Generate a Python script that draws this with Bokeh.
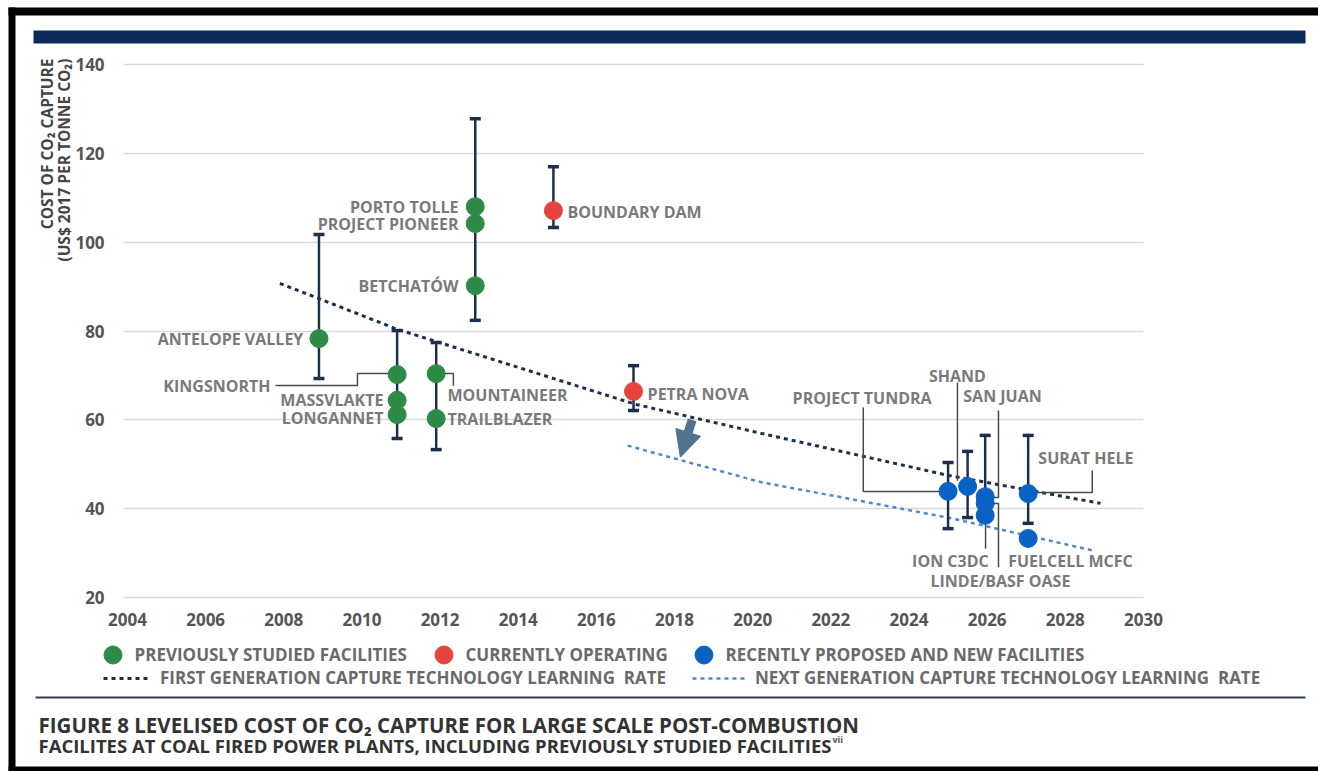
from math import pi
from bokeh.plotting import figure
from bokeh.models import (ColumnDataSource, Range1d, FixedTicker, Label, BoxAnnotation,
                          Legend, LegendItem, Arrow, NormalHead, LinearAxis, Grid)
from bokeh.core.properties import value
from bokeh.embed import file_html
from bokeh.resources import INLINE

# ---------------- data ----------------
prev_names = ["ANTELOPE VALLEY", "KINGSNORTH", "MASSVLAKTE", "LONGANNET", "MOUNTAINEER",
              "TRAILBLAZER", "PORTO TOLLE", "PROJECT PIONEER", "BETCHATÓW"]
prev_year = [2008.9, 2010.9, 2010.9, 2010.9, 2011.9, 2011.9, 2012.9, 2012.9, 2012.9]
prev_cost = [78.3, 70.2, 64.4, 61.2, 70.4, 60.3, 108.0, 104.2, 90.2]

curr_names = ["BOUNDARY DAM", "PETRA NOVA"]
curr_year = [2014.9, 2016.95]
curr_cost = [107.1, 66.4]

new_names = ["PROJECT TUNDRA", "SHAND", "SAN JUAN", "LINDE/BASF OASE", "ION C3DC",
             "SURAT HELE", "FUELCELL MCFC"]
new_year = [2025.0, 2025.5, 2025.95, 2025.95, 2025.95, 2027.05, 2027.05]
new_cost = [43.9, 45.0, 42.7, 41.2, 38.5, 43.4, 33.3]

range_year = [2008.9, 2010.9, 2011.9, 2012.9, 2014.9, 2016.95, 2025.0, 2025.5, 2025.95, 2027.05]
range_low = [69.3, 55.8, 53.3, 82.4, 103.3, 62.1, 35.5, 38.0, 38.5, 36.7]
range_high = [101.7, 80.1, 77.4, 127.8, 117.0, 72.2, 50.4, 52.9, 56.5, 56.5]

first_gen_year = [2007.9, 2008.9, 2010.9, 2017.0, 2020.2, 2025.0, 2028.9]
first_gen_cost = [90.7, 87.3, 80.4, 63.5, 57.0, 47.5, 41.2]

next_gen_year = [2016.8, 2020.2, 2025.0, 2028.7]
next_gen_cost = [54.2, 46.0, 38.0, 30.6]

x_ticks = [2004, 2006, 2008, 2010, 2012, 2014, 2016, 2018, 2020, 2022, 2024, 2026, 2028, 2030]
y_ticks = [20, 40, 60, 80, 100, 120, 140]

# ---------------- styles ----------------
GREEN = "#2e8b46"
RED = "#e5433d"
BLUE = "#0a63c4"
NAVY = "#1c2f4d"
NEXT_BLUE = "#5088cf"
LABEL_GREY = "#7a7a7a"
FONT = "Open Sans"
W, H = 1318, 771

# The frame covers the whole canvas; the ranges are chosen so that the chart
# area (2003.9..2030, 20..140) sits where it does in the figure.
p = figure(width=W, height=H, output_backend="svg", toolbar_location=None,
           x_range=Range1d(2000.75, 2034.48), y_range=Range1d(-19.17, 154.41),
           x_axis_location=None, y_axis_location=None,
           min_border=0, min_border_left=0, min_border_right=0,
           min_border_top=0, min_border_bottom=0)
p.outline_line_color = None
p.background_fill_color = "white"
p.border_fill_color = "white"
p.grid.grid_line_color = None

grid = Grid(dimension=1, ticker=FixedTicker(ticks=y_ticks), cross_bounds=(2003.9, 2030.0),
            grid_line_color="#d9d9d9", grid_line_width=1.5)
p.add_layout(grid)

xaxis = LinearAxis(ticker=FixedTicker(ticks=x_ticks), fixed_location=20)
yaxis = LinearAxis(ticker=FixedTicker(ticks=y_ticks), fixed_location=2003.9)
p.add_layout(xaxis, "below")
p.add_layout(yaxis, "left")
for ax, standoff in ((xaxis, 9), (yaxis, 13)):
    ax.axis_line_color = None
    ax.major_tick_line_color = None
    ax.minor_tick_line_color = None
    ax.major_label_text_font = FONT
    ax.major_label_text_font_style = "bold"
    ax.major_label_text_font_size = "17px"
    ax.major_label_text_color = "#555555"
    ax.major_label_standoff = standoff

# trend lines
first_r = p.line(first_gen_year, first_gen_cost, line_color=NAVY, line_width=3,
                 line_dash="4 4")
next_r = p.line(next_gen_year, next_gen_cost, line_color=NEXT_BLUE, line_width=2.5,
                line_dash="4 4")

# ranges (error bars)
rs = ColumnDataSource(dict(x=range_year, lo=range_low, hi=range_high))
p.segment("x", "lo", "x", "hi", source=rs, line_color=NAVY, line_width=2.5)
p.scatter("x", "lo", source=rs, marker="dash", size=11, line_color=NAVY, line_width=3.5)
p.scatter("x", "hi", source=rs, marker="dash", size=11, line_color=NAVY, line_width=3.5)

# leader lines (annotation connectors)
lead_xs = [[2007.79, 2009.885, 2009.885, 2010.78],
           [2012.0, 2012.34, 2012.34],
           [2022.83, 2022.83, 2024.8],
           [2025.24, 2025.24],
           [2026.29, 2026.29, 2026.05],
           [2026.05, 2026.29, 2026.29],
           [2025.96, 2025.96],
           [2028.69, 2028.69, 2027.2]]
lead_ys = [[67.74, 67.74, 70.44, 70.44],
           [70.44, 70.44, 67.7],
           [62.8, 43.87, 43.87],
           [68.4, 46.3],
           [62.1, 42.5, 42.5],
           [41.17, 41.17, 26.8],
           [38.5, 31.0],
           [48.6, 43.65, 43.65]]
p.multi_line(lead_xs, lead_ys, line_color="#4a4a4a", line_width=1.5)

prev_r = p.scatter(prev_year, prev_cost, size=18, fill_color=GREEN, line_color=GREEN)
curr_r = p.scatter(curr_year, curr_cost, size=18, fill_color=RED, line_color=RED)
new_r = p.scatter(new_year, new_cost, size=18, fill_color=BLUE, line_color=BLUE)

# point labels
lab = ColumnDataSource(dict(
    text=prev_names + curr_names + new_names,
    x=[2008.5, 2007.66, 2010.55, 2010.55, 2012.19, 2012.19, 2012.47, 2012.47, 2012.47,
       2015.26, 2017.31,
       2022.8, 2025.24, 2025.39, 2026.34, 2025.06, 2027.31, 2026.54],
    y=[78.3, 67.7, 64.4, 60.5, 65.5, 60.3, 108.0, 104.2, 90.2,
       106.9, 65.9,
       65.0, 69.8, 65.3, 23.8, 28.3, 51.5, 28.3],
    align=["right"] * 4 + ["left"] * 2 + ["right"] * 3 + ["left"] * 2 +
          ["center", "center", "left", "center", "center", "left", "left"],
))
p.text("x", "y", text="text", source=lab, text_align="align", text_baseline="middle",
       text_font=value(FONT), text_font_style="bold", text_font_size="16px",
       text_color=LABEL_GREY)

# arrow
p.add_layout(Arrow(x_start=2018.45, y_start=60.0, x_end=2018.15, y_end=51.6,
                   line_color="#52738f", line_width=9,
                   end=NormalHead(size=26, fill_color="#52738f", line_color="#52738f")))

# y axis title (screen units measured from the canvas bottom-left)
for txt, sx in (("COST OF CO₂ CAPTURE", 46), ("(US$ 2017 PER TONNE CO₂)", 63)):
    p.add_layout(Label(x=sx, y=H - 58, x_units="screen", y_units="screen", text=txt,
                       angle=pi / 2, text_align="right", text_baseline="middle",
                       text_font=FONT, text_font_style="bold", text_font_size="15.5px",
                       text_color="#454545"))

# legends
def add_legend(label, renderer, vx, vy, gw, gh, standoff):
    lg = Legend(items=[LegendItem(label=label, renderers=[renderer])], location=(vx, vy),
                orientation="horizontal", padding=0, margin=0, spacing=0,
                glyph_width=gw, glyph_height=gh, label_standoff=standoff,
                background_fill_alpha=0, border_line_color=None,
                label_text_font=FONT, label_text_font_style="bold",
                label_text_font_size="17px", label_text_color="#6a6a6a")
    p.add_layout(lg)

add_legend("PREVIOUSLY STUDIED FACILITIES", prev_r, 89.5, H - 676.5, 45, 45, 0)
add_legend("CURRENTLY OPERATING", curr_r, 420.5, H - 676.5, 45, 45, 0)
add_legend("RECENTLY PROPOSED AND NEW FACILITIES", new_r, 680.5, H - 676.5, 45, 45, 0)
add_legend("FIRST GENERATION CAPTURE TECHNOLOGY LEARNING  RATE", first_r, 103, H - 689, 47, 20, 10)
add_legend("NEXT GENERATION CAPTURE TECHNOLOGY LEARNING  RATE", next_r, 692, H - 689, 53, 20, 10)

# caption
for txt, sy, fs in (("FIGURE 8  LEVELISED COST OF CO₂ CAPTURE FOR LARGE SCALE POST-COMBUSTION", H - 724, "20.5px"),
                    ("FACILITES AT COAL FIRED POWER PLANTS, INCLUDING PREVIOUSLY STUDIED FACILITIES", H - 745, "18.5px")):
    p.add_layout(Label(x=38, y=sy, x_units="screen", y_units="screen", text=txt,
                       text_align="left", text_baseline="middle", text_font=FONT,
                       text_font_style="bold", text_font_size=fs, text_color="#333333"))
p.add_layout(Label(x=832, y=H - 739, x_units="screen", y_units="screen", text="vii",
                   text_align="left", text_baseline="middle", text_font=FONT,
                   text_font_style="bold", text_font_size="9px", text_color="#555555"))

# decorative bars / frame (canvas units)
def box(l, r, t, b, color):
    p.add_layout(BoxAnnotation(left=l, right=r, top=t, bottom=b, left_units="canvas",
                               right_units="canvas", top_units="canvas", bottom_units="canvas",
                               fill_color=color, fill_alpha=1, line_color=None, level="overlay"))

box(33, 1305, 30, 43, "#0c2b5a")
box(35, 1305, 696, 698, "#2c3e55")
box(8, 15, 7, 771, "black")
box(8, 1318, 7, 15, "black")
box(8, 1318, 766, 771, "black")

open("out.html", "w").write(file_html(p, INLINE))
